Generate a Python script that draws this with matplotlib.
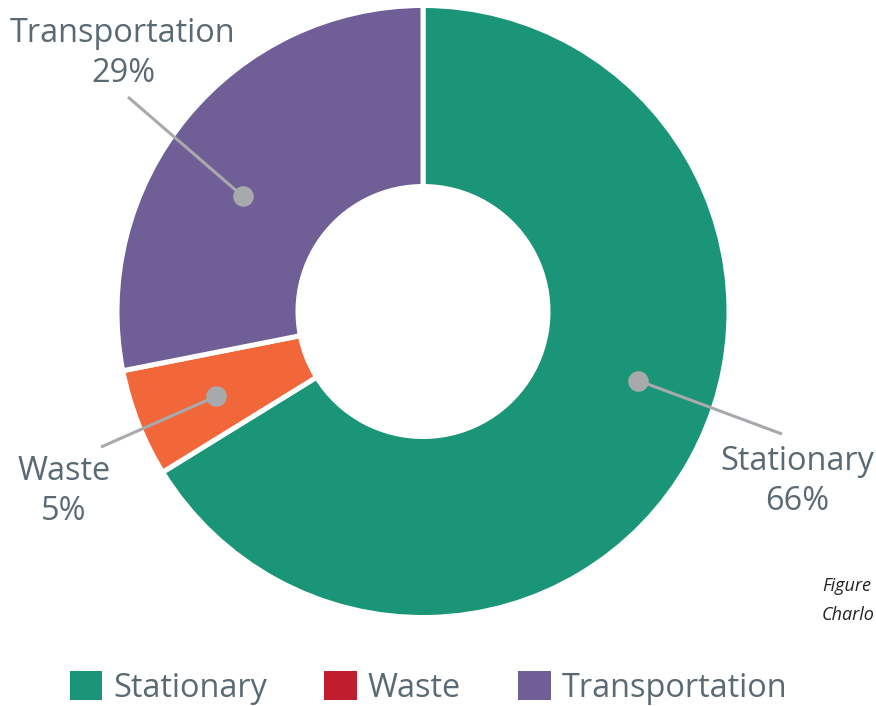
"""
    Donut chart of emissions by sector
"""

#===== LIBRARIES =====================================
import matplotlib
matplotlib.use("Agg")
import matplotlib.pyplot as plt
from matplotlib.patches import Patch
import numpy as np

#===== DATA ==========================================
sectors = ["Stationary", "Waste", "Transportation"]
shares = [66.2, 5.7, 28.1]
share_labels = ["66%", "5%", "29%"]

#===== STYLE =========================================
W, H = 876, 706
SLICE_COLORS = ["#1b9577", "#f26739", "#705e96"]
LEGEND_COLORS = ["#1b9577", "#c01d2e", "#705e96"]
TEXT_COLOR = "#5a6a74"
DOT_COLOR = "#a7a9ac"
CENTER = (423, H - 311.5)
R_OUT, R_IN = 306, 125

# label layout: dot angle/radius, line end, text centre (pixels from top)
LABELS = {
    "Stationary":     dict(ang=-17.8, r=226, end=(782, 434), txt=(797, 481)),
    "Waste":          dict(ang=202.3, r=224, end=(101, 447), txt=(64, 491)),
    "Transportation": dict(ang=147.4, r=214, end=(128, 97), txt=(123, 53)),
}

plt.rcParams["font.family"] = ["Open Sans", "DejaVu Sans"]

#===== PLOT ==========================================
fig = plt.figure(figsize=(W / 100, H / 100), dpi=100)
ax = fig.add_axes([0, 0, 1, 1])

ax.pie(shares, colors=SLICE_COLORS, startangle=90, counterclock=False,
       radius=R_OUT, center=CENTER,
       wedgeprops=dict(width=R_OUT - R_IN, edgecolor="white", linewidth=3.6))

ax.set_xlim(0, W)
ax.set_ylim(0, H)
ax.set_aspect("equal")
ax.axis("off")

for name, pct in zip(sectors, share_labels):
    lay = LABELS[name]
    a = np.radians(lay["ang"])
    dx = CENTER[0] + lay["r"] * np.cos(a)
    dy = CENTER[1] + lay["r"] * np.sin(a)
    ex, ey = lay["end"][0], H - lay["end"][1]
    ax.plot([dx, ex], [dy, ey], color=DOT_COLOR, lw=2.2, solid_capstyle="butt", zorder=3)
    ax.scatter([dx], [dy], s=220, color=DOT_COLOR, zorder=4, linewidths=0)
    tx, ty = lay["txt"][0], H - lay["txt"][1]
    ax.text(tx, ty, f"{name}\n{pct}", ha="center", va="center", fontsize=23.4,
            color=TEXT_COLOR, linespacing=1.28)

# caption, cut by the right edge in the source
fig.text(822 / W, 1 - 591 / H, "Figure", fontsize=13, style="italic", color="#222222")
fig.text(822 / W, 1 - 620 / H, "Charlo", fontsize=13, style="italic", color="#222222")

handles = [Patch(facecolor=c, edgecolor="none") for c in LEGEND_COLORS]
fig.legend(handles, sectors, loc="center", bbox_to_anchor=(428.5 / W, 1 - 688 / H),
           ncol=3, frameon=False, fontsize=23.4, handlelength=1.0, handleheight=1.0,
           handletextpad=0.35, columnspacing=1.75, labelcolor=TEXT_COLOR,
           borderaxespad=0, borderpad=0)

fig.savefig("out.png", dpi=100)
